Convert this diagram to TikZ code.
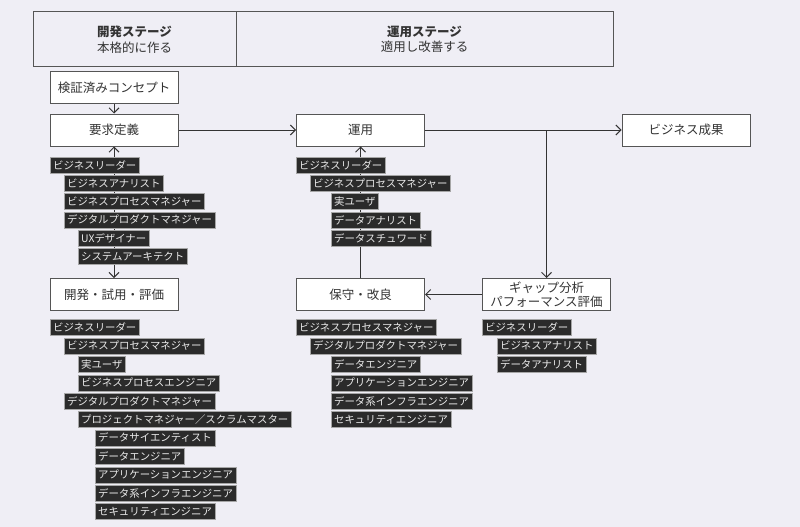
\documentclass[tikz,border=0pt]{standalone}
\usepackage{fontspec}
\setmainfont{Noto Sans CJK JP}
\usetikzlibrary{arrows.meta}
\definecolor{bgpage}{HTML}{EFEEF5}
\definecolor{tagdark}{HTML}{2B2B2B}
\definecolor{boxline}{HTML}{555555}
\definecolor{inktext}{HTML}{333333}
\tikzset{
	stage/.style={rectangle, draw=boxline, line width=1pt, fill=white, text=inktext, minimum width=128pt, minimum height=32pt, inner sep=1pt, align=center, font=\fontsize{12.5}{14}\selectfont},
	head/.style={rectangle, draw=boxline, line width=1pt, fill=bgpage, text=inktext, minimum height=55pt, inner sep=0pt, align=center, font=\fontsize{12.5}{15.5}\selectfont},
	role/.style={rectangle, anchor=west, draw=gray!70, line width=0.3pt, fill=tagdark, text=white!92!black, minimum height=16pt, inner xsep=3pt, inner ysep=0pt, font=\fontsize{10.4}{12}\selectfont}
}
\begin{document}
\begin{tikzpicture}[x=1pt, y=-1pt, draw=inktext, line width=1pt, >={Straight Barb[length=5pt,width=10pt]}]
	\fill[bgpage] (0,0) rectangle (800,527);
	\useasboundingbox (0,0) rectangle (800,527);
	% header
	\node (HDev) at (134.5, 39.5)	[head, minimum width=203pt]	{\textbf{開発ステージ}\\本格的に作る};
	\node (HOps) at (424.5, 39.5)	[head, minimum width=377pt]	{\textbf{運用ステージ}\\適用し改善する};
	% stages
	\node (Poc) at (114,  87.5)	[stage]	{検証済みコンセプト};
	\node (Req) at (114, 130)	[stage]	{要求定義};
	\node (Dev) at (114, 294.5)	[stage]	{開発・試用・評価};
	\node (Ops) at (360.5, 130)	[stage]	{運用};
	\node (Mnt) at (360.5, 294.5)	[stage]	{保守・改良};
	\node (Gap) at (546.5, 294.5)	[stage, font=\fontsize{12.5}{14.5}\selectfont]	{ギャップ分析\\パフォーマンス評価};
	\node (Res) at (686, 130)	[stage]	{ビジネス成果};
	\coordinate (Br) at (546.5, 130);
	\draw[->] (Poc) -- (Req);
	\draw[->] (Req) -- (Ops);
	\draw[<->] (Req) -- (Dev);
	\draw[->] (Mnt) -- (Ops);
	\draw[->] (Ops) -- (Res);
	\draw[->] (Br) -- (Gap);
	\draw[->] (Gap) -- (Mnt);
	% roles: requirements
	\node (R1) at (50, 165)	[role]	{ビジネスリーダー};
	\node (R2) at (64, 183.3)	[role]	{ビジネスアナリスト};
	\node (R3) at (64, 201.6)	[role]	{ビジネスプロセスマネジャー};
	\node (R4) at (64, 219.9)	[role]	{デジタルプロダクトマネジャー};
	\node (R5) at (78, 238.2)	[role]	{UXデザイナー};
	\node (R6) at (78, 256.5)	[role]	{システムアーキテクト};
	% roles: development
	\node (D1) at (50, 327.5)	[role]	{ビジネスリーダー};
	\node (D2) at (64, 345.9)	[role]	{ビジネスプロセスマネジャー};
	\node (D3) at (78, 364.3)	[role]	{実ユーザ};
	\node (D4) at (78, 382.7)	[role]	{ビジネスプロセスエンジニア};
	\node (D5) at (64, 401.1)	[role]	{デジタルプロダクトマネジャー};
	\node (D6) at (78, 419.5)	[role]	{プロジェクトマネジャー／スクラムマスター};
	\node (D7) at (95, 437.9)	[role]	{データサイエンティスト};
	\node (D8) at (95, 456.3)	[role]	{データエンジニア};
	\node (D9) at (95, 474.7)	[role]	{アプリケーションエンジニア};
	\node (D10) at (95, 493.1)	[role]	{データ系インフラエンジニア};
	\node (D11) at (95, 511.5)	[role]	{セキュリティエンジニア};
	% roles: operation
	\node (O1) at (296, 165)	[role]	{ビジネスリーダー};
	\node (O2) at (310, 183.3)	[role]	{ビジネスプロセスマネジャー};
	\node (O3) at (331, 201.6)	[role]	{実ユーザ};
	\node (O4) at (331, 219.9)	[role]	{データアナリスト};
	\node (O5) at (331, 238.2)	[role]	{データスチュワード};
	% roles: maintenance
	\node (M1) at (296, 327.5)	[role]	{ビジネスプロセスマネジャー};
	\node (M2) at (310, 345.9)	[role]	{デジタルプロダクトマネジャー};
	\node (M3) at (331, 364.3)	[role]	{データエンジニア};
	\node (M4) at (331, 382.7)	[role]	{アプリケーションエンジニア};
	\node (M5) at (331, 401.1)	[role]	{データ系インフラエンジニア};
	\node (M6) at (331, 419.5)	[role]	{セキュリティエンジニア};
	% roles: gap analysis
	\node (G1) at (482, 327.5)	[role]	{ビジネスリーダー};
	\node (G2) at (497, 345.9)	[role]	{ビジネスアナリスト};
	\node (G3) at (497, 364.3)	[role]	{データアナリスト};
\end{tikzpicture}
\end{document}
